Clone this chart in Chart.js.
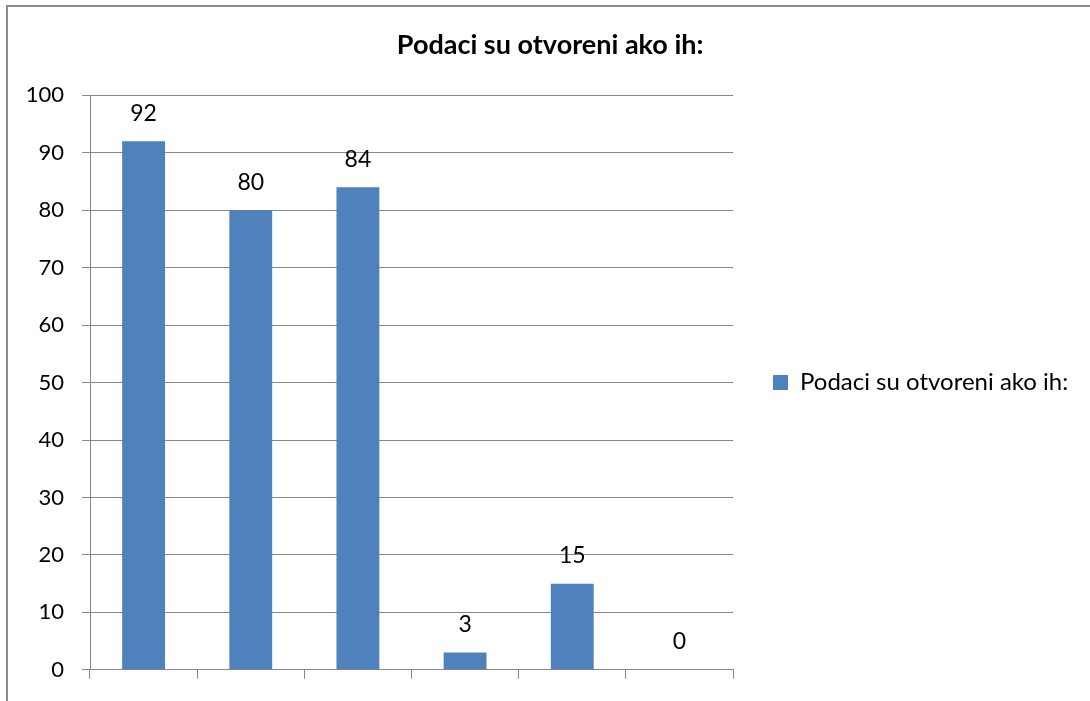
<!DOCTYPE html>
<html>
<head>
<meta charset="utf-8">
<script src="https://cdn.jsdelivr.net/npm/chart.js@4.4.1/dist/chart.umd.min.js"></script>
<style>
  html, body { margin: 0; padding: 0; background: #fff; overflow: hidden; }
  #wrap { position: relative; width: 1090px; height: 701px; }
  #frame {
    position: absolute; left: 6px; top: 5px; width: 1200px; height: 800px;
    border-left: 2px solid #8a8a8a; border-top: 2px solid #8a8a8a;
  }
  #chart { position: absolute; left: 0; top: 0; }
</style>
</head>
<body>
<div id="wrap">
  <div id="frame"></div>
  <canvas id="chart" width="1090" height="701"></canvas>
</div>
<script>
// chart data
const categories = ['', '', '', '', '', ''];
const seriesName = 'Podaci su otvoreni ako ih:';
const values = [92, 80, 84, 3, 15, 0];
const yTicks = [0, 10, 20, 30, 40, 50, 60, 70, 80, 90, 100];

const FONT = 'Lato, "Open Sans", sans-serif';
const gridGray = '#878787';
const barBlue = '#4F81BD';
const legendFont = 24;
const legendPad = 40;

// side paddings: plot should end at x=733, legend box right of it
const m = document.createElement('canvas').getContext('2d');
m.font = legendFont + 'px ' + FONT;
const textW = m.measureText(seriesName).width;
const legendW = legendPad + 15 + legendFont / 2 + textW + 10;
const padRight = Math.max(0, 1090 - 733 - legendW);
const padLeft = Math.min(20 + padRight, 22);

// value labels above each bar
const valueLabels = {
  id: 'valueLabels',
  afterDatasetsDraw(chart) {
    const ctx = chart.ctx;
    ctx.save();
    ctx.font = '23px ' + FONT;
    ctx.fillStyle = '#000';
    ctx.textAlign = 'center';
    ctx.textBaseline = 'middle';
    chart.getDatasetMeta(0).data.forEach(function(bar, i) {
      ctx.fillText(String(values[i]), bar.x, bar.y - 28);
    });
    ctx.restore();
  }
};

new Chart(document.getElementById('chart'), {
  type: 'bar',
  data: {
    labels: categories,
    datasets: [{
      label: seriesName,
      data: values,
      backgroundColor: barBlue,
      borderWidth: 0,
      barPercentage: 0.4,
      categoryPercentage: 1
    }]
  },
  options: {
    responsive: false,
    animation: false,
    devicePixelRatio: 1,
    layout: { padding: { left: padLeft, right: padRight, top: 0, bottom: 0 } },
    plugins: {
      title: {
        display: true,
        text: seriesName,
        color: '#000',
        font: { family: FONT, size: 27, weight: 'bold' },
        padding: { top: 29, bottom: 34 }
      },
      legend: {
        position: 'right',
        fullSize: false,
        maxWidth: 500,
        labels: {
          color: '#000',
          font: { family: FONT, size: legendFont },
          boxWidth: 15,
          boxHeight: 15,
          padding: legendPad
        }
      },
      tooltip: { enabled: false }
    },
    scales: {
      x: {
        ticks: { display: false },
        grid: {
          offset: true,
          drawOnChartArea: false,
          drawTicks: true,
          tickLength: 9,
          color: gridGray
        },
        border: { color: gridGray },
        afterFit: function(s) { s.height = 30; }
      },
      y: {
        min: 0,
        max: 100,
        afterBuildTicks: function(s) { s.ticks = yTicks.map(v => ({ value: v })); },
        ticks: {
          color: '#000',
          padding: 18,
          font: { family: FONT, size: 22 }
        },
        grid: { color: gridGray, tickLength: 8 },
        border: { color: gridGray },
        afterFit: function(s) { s.width = 90 - padLeft; }
      }
    }
  },
  plugins: [valueLabels]
});
</script>
</body>
</html>
